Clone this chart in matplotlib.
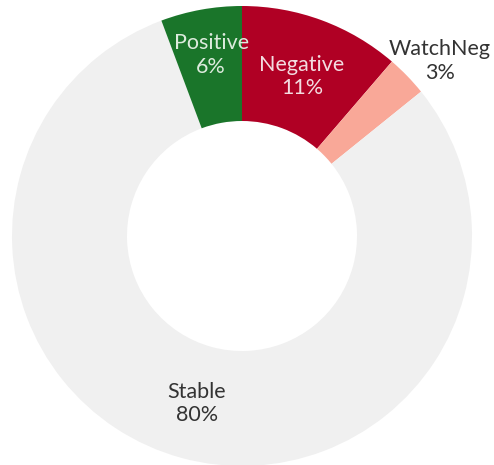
import numpy as np
import matplotlib
matplotlib.use("Agg")
import matplotlib.pyplot as plt

categories = ["Negative", "WatchNeg", "Stable", "Positive"]
values = [11.3, 2.9, 80.1, 5.7]
colors = ["#B00024", "#F9A898", "#F0F0F0", "#1A752A"]
text_colors = ["#F3DCE0", "#333333", "#333333", "#DDEBDD"]
label_r = [0.75, 1.15, 0.74, 0.8]
label_shift = [(0, -2), (8, -9), (0, -3), (2, 0)]

W, H = 494, 465
fig = plt.figure(figsize=(W / 100, H / 100), dpi=100)
ax = fig.add_axes([0, 0, 1, 1])
R = 230
wedges, _ = ax.pie(values, colors=colors, startangle=90, counterclock=False,
                   radius=R, wedgeprops=dict(width=R / 2, linewidth=0))
ax.set_xlim(-242, W - 242)
ax.set_ylim(-(H - 236), 236)
ax.set_aspect("equal")
ax.axis("off")

total = sum(values)
for w, cat, v, tc, lr, sh in zip(wedges, categories, values, text_colors, label_r, label_shift):
    ang = np.deg2rad((w.theta1 + w.theta2) / 2)
    x = lr * R * np.cos(ang)
    y = lr * R * np.sin(ang)
    ax.annotate(f"{cat}\n{round(v / total * 100)}%", (x, y), xytext=sh,
                textcoords="offset pixels", ha="center", va="center",
                color=tc, fontsize=15.5, family="Lato", fontweight="normal",
                linespacing=1.2)

fig.savefig("out.png", dpi=100)
